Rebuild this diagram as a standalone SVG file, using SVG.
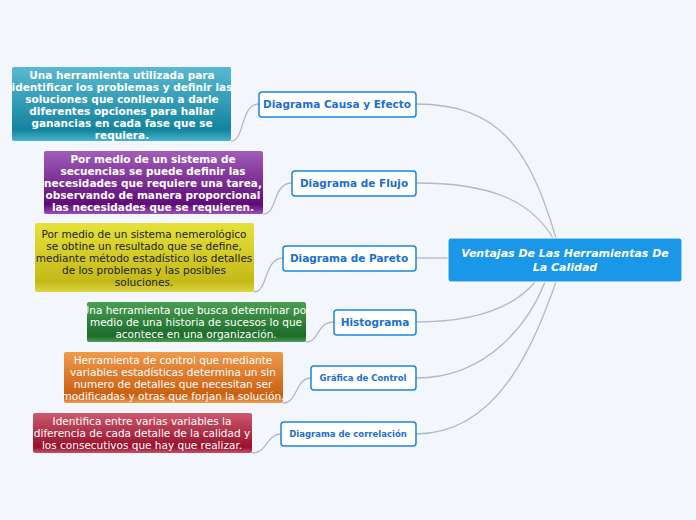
<svg xmlns="http://www.w3.org/2000/svg" width="696" height="520" viewBox="0 0 696 520">
<defs>
<linearGradient id="gt" x1="0" y1="0" x2="0" y2="1"><stop offset="0" stop-color="#5ab9d2"/><stop offset="0.85" stop-color="#13849e"/><stop offset="1" stop-color="#4bb3cb"/></linearGradient>
<linearGradient id="gp" x1="0" y1="0" x2="0" y2="1"><stop offset="0" stop-color="#a25dba"/><stop offset="0.85" stop-color="#5f0b78"/><stop offset="1" stop-color="#9850b3"/></linearGradient>
<linearGradient id="gy" x1="0" y1="0" x2="0" y2="1"><stop offset="0" stop-color="#e6e13a"/><stop offset="0.85" stop-color="#c4b918"/><stop offset="1" stop-color="#ddd540"/></linearGradient>
<linearGradient id="gg" x1="0" y1="0" x2="0" y2="1"><stop offset="0" stop-color="#4a9e52"/><stop offset="0.85" stop-color="#1c6b2a"/><stop offset="1" stop-color="#4a9e52"/></linearGradient>
<linearGradient id="go" x1="0" y1="0" x2="0" y2="1"><stop offset="0" stop-color="#f09a4c"/><stop offset="0.85" stop-color="#c95f10"/><stop offset="1" stop-color="#ee9a4a"/></linearGradient>
<linearGradient id="gr" x1="0" y1="0" x2="0" y2="1"><stop offset="0" stop-color="#cc5a6e"/><stop offset="0.85" stop-color="#98102a"/><stop offset="1" stop-color="#c85068"/></linearGradient>
</defs>
<style>
.br{fill:#fff;stroke:#1a86e0;stroke-width:1.5}
.bt{font-family:Verdana,"DejaVu Sans",sans-serif;font-weight:bold;fill:#1c6fd1;text-anchor:middle}
.nt{font-family:"DejaVu Sans",sans-serif;font-size:10.5px;text-anchor:middle;fill:#fff}
.b{font-weight:bold}
.c{fill:none;stroke:#b4b8c4;stroke-width:1.3}
</style>
<rect width="696" height="520" fill="#f3f6fd"/>
<g id="connectors">
<path class="c" d="M416,104 C500,104 530,150 556,238"/>
<path class="c" d="M416,183 C490,183 530,200 553,238"/>
<path class="c" d="M416,258 L448,258"/>
<path class="c" d="M416,322 C490,322 520,300 535,282"/>
<path class="c" d="M416,378 C490,378 530,320 545,282"/>
<path class="c" d="M416,434 C500,434 535,340 556,282"/>
<path class="c" d="M259,104 C240,104 245,141 231,141"/>
<path class="c" d="M292,183 C272,183 278,214 263,214"/>
<path class="c" d="M283,258 C264,258 268,292 254,292"/>
<path class="c" d="M334,322 C316,322 320,342 306,342"/>
<path class="c" d="M311,378 C295,378 298,403 283,403"/>
<path class="c" d="M281,434 C266,434 268,453 252,453"/>
</g>
<g id="root">
<rect x="448" y="238" width="234" height="44" rx="3" fill="#1a97e8" stroke="#fff" stroke-width="1"/>
<text x="565" y="257" font-family="Verdana,'DejaVu Sans',sans-serif" font-size="11" font-weight="bold" font-style="italic" fill="#fff" text-anchor="middle">Ventajas De Las Herramientas De</text>
<text x="565" y="271" font-family="Verdana,'DejaVu Sans',sans-serif" font-size="11" font-weight="bold" font-style="italic" fill="#fff" text-anchor="middle">La Calidad</text>
</g>
<g id="b1"><rect class="br" x="259" y="92" width="157" height="25" rx="3"/><text class="bt" x="337" y="108" font-size="10.5">Diagrama Causa  y Efecto</text></g>
<g id="b2"><rect class="br" x="292" y="171" width="124" height="25" rx="3"/><text class="bt" x="354" y="187" font-size="10.5">Diagrama de Flujo</text></g>
<g id="b3"><rect class="br" x="283" y="246" width="133" height="25" rx="3"/><text class="bt" x="349" y="262" font-size="10.5">Diagrama de Pareto</text></g>
<g id="b4"><rect class="br" x="334" y="310" width="82" height="25" rx="3"/><text class="bt" x="375" y="326" font-size="10.5">Histograma</text></g>
<g id="b5"><rect class="br" x="311" y="366" width="105" height="24" rx="3"/><text class="bt" x="363" y="381" font-size="8.5">Gráfica de Control</text></g>
<g id="b6"><rect class="br" x="281" y="422" width="135" height="24" rx="3"/><text class="bt" x="348" y="437" font-size="8.5">Diagrama de correlación</text></g>
<g id="n1"><rect x="12" y="67" width="219" height="74" rx="2" fill="url(#gt)"/>
<text class="nt b" x="122" y="79">Una herramienta utilizada para</text><text class="nt b" x="122" y="91">identificar los problemas y definir las</text><text class="nt b" x="122" y="103">soluciones que conllevan a darle</text><text class="nt b" x="122" y="115">diferentes opciones para hallar</text><text class="nt b" x="122" y="127">ganancias en cada fase que se</text><text class="nt b" x="122" y="139">requiera.</text></g>
<g id="n2"><rect x="44" y="151" width="219" height="63" rx="2" fill="url(#gp)"/>
<text class="nt b" x="153" y="163">Por medio de un sistema de</text><text class="nt b" x="153" y="175">secuencias se puede definir las</text><text class="nt b" x="153" y="187">necesidades que requiere una tarea,</text><text class="nt b" x="153" y="199">observando de manera proporcional</text><text class="nt b" x="153" y="211">las necesidades que se requieren.</text></g>
<g id="n3"><rect x="35" y="223" width="219" height="69" rx="2" fill="url(#gy)"/>
<g fill="#222"><text class="nt" x="144" y="238" style="fill:#222">Por medio de un sistema nemerológico</text><text class="nt" x="144" y="250" style="fill:#222">se obtine un resultado que se define,</text><text class="nt" x="144" y="262" style="fill:#222">mediante método estadístico los detalles</text><text class="nt" x="144" y="274" style="fill:#222">de los problemas y las posibles</text><text class="nt" x="144" y="286" style="fill:#222">soluciones.</text></g></g>
<g id="n4"><rect x="87" y="302" width="219" height="40" rx="2" fill="url(#gg)"/>
<text class="nt" x="196" y="314">Una herramienta que busca determinar por</text><text class="nt" x="196" y="326">medio de una historia de sucesos lo que</text><text class="nt" x="196" y="338">acontece en una organización.</text></g>
<g id="n5"><rect x="64" y="352" width="219" height="51" rx="2" fill="url(#go)"/>
<text class="nt" x="173" y="364">Herramienta de control que mediante</text><text class="nt" x="173" y="376">variables estadísticas determina un sin</text><text class="nt" x="173" y="388">numero de detalles que necesitan ser</text><text class="nt" x="173" y="400">modificadas y otras que forjan la solución.</text></g>
<g id="n6"><rect x="33" y="413" width="219" height="40" rx="2" fill="url(#gr)"/>
<text class="nt" x="142" y="425">Identifica entre varias variables la</text><text class="nt" x="142" y="437">diferencia de cada detalle de la calidad y</text><text class="nt" x="142" y="449">los consecutivos que hay que realizar.</text></g>
</svg>
